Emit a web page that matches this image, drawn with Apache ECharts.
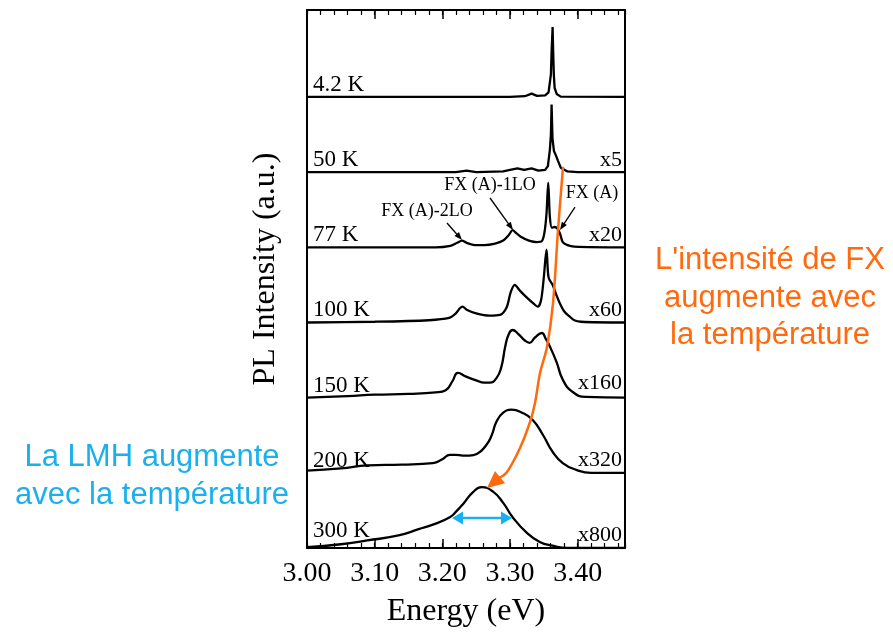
<!DOCTYPE html>
<html><head><meta charset="utf-8">
<script src="https://cdn.jsdelivr.net/npm/echarts@6/dist/echarts.min.js"></script>
<style>html,body{margin:0;padding:0;background:#fff}#c{width:893px;height:632px}</style>
</head><body><div id="c"></div>
<script>
// ---- data ----
const temps   = ['4.2 K','50 K','77 K','100 K','150 K','200 K','300 K'];
const factors = ['', 'x5','x20','x60','x160','x320','x800'];
const xTicks  = [3.00, 3.10, 3.20, 3.30, 3.40];

const e4K = [3.00,3.30,3.322,3.332,3.340,3.352,3.357,3.3605,3.3615,3.3625,3.363,3.3638,3.3648,3.366,3.369,3.375,3.47];
const i4K = [0,0,0.01,0.045,0.015,0.02,0.06,0.3,0.6,0.62,0.93,0.62,0.3,0.12,0.04,0.005,0];

const e50K = [3.00,3.22,3.236,3.25,3.29,3.30,3.311,3.321,3.332,3.342,3.352,3.356,3.359,3.3605,3.3615,3.3628,3.365,3.368,3.371,3.375,3.385,3.40,3.47];
const i50K = [0,0,0.02,0,0.01,0.03,0.05,0.03,0.05,0.02,0.03,0.08,0.3,0.5,0.9,0.45,0.28,0.22,0.15,0.06,0.01,0,0];

const e77K = [3.00,3.19,3.212,3.222,3.229,3.236,3.248,3.262,3.278,3.290,3.298,3.304,3.308,3.316,3.328,3.340,3.347,3.351,3.354,3.3565,3.359,3.362,3.366,3.370,3.374,3.378,3.385,3.395,3.47];
const i77K = [0,0,0.02,0.06,0.09,0.06,0.03,0.03,0.05,0.09,0.16,0.23,0.2,0.14,0.09,0.07,0.08,0.2,0.45,0.86,0.4,0.26,0.27,0.25,0.18,0.07,0.03,0.01,0];

const e100K = [3.00,3.10,3.18,3.21,3.220,3.226,3.230,3.236,3.25,3.27,3.285,3.295,3.301,3.307,3.315,3.325,3.335,3.341,3.346,3.350,3.354,3.357,3.363,3.368,3.373,3.380,3.388,3.395,3.405,3.47];
const i100K = [0,0.01,0.03,0.06,0.12,0.19,0.21,0.17,0.12,0.09,0.1,0.2,0.4,0.5,0.42,0.33,0.25,0.21,0.3,0.6,0.97,0.6,0.5,0.38,0.27,0.15,0.08,0.03,0.01,0];

const e150K = [3.00,3.06,3.10,3.15,3.19,3.205,3.215,3.223,3.235,3.25,3.262,3.270,3.280,3.287,3.293,3.298,3.304,3.312,3.322,3.329,3.337,3.347,3.353,3.359,3.369,3.378,3.392,3.412,3.47];
const i150K = [0,0.02,0.04,0.05,0.07,0.1,0.22,0.33,0.28,0.23,0.2,0.2,0.26,0.4,0.68,0.84,0.9,0.85,0.76,0.73,0.8,0.86,0.78,0.68,0.47,0.24,0.08,0.01,0];

const e200K = [3.00,3.05,3.09,3.14,3.186,3.20,3.211,3.220,3.230,3.240,3.251,3.265,3.273,3.280,3.290,3.302,3.318,3.334,3.349,3.363,3.378,3.398,3.42,3.47];
const i200K = [0.03,0.06,0.1,0.11,0.13,0.18,0.24,0.24,0.23,0.23,0.25,0.37,0.5,0.68,0.8,0.84,0.8,0.7,0.5,0.28,0.13,0.04,0,0];

const e300K = [3.00,3.05,3.089,3.137,3.165,3.186,3.211,3.221,3.232,3.245,3.258,3.275,3.290,3.304,3.325,3.344,3.363,3.385,3.47];
const i300K = [0.01,0.05,0.1,0.17,0.25,0.31,0.41,0.49,0.6,0.74,0.81,0.75,0.6,0.41,0.2,0.08,0.03,0,0];

const energies = [e4K, e50K, e77K, e100K, e150K, e200K, e300K];
const intens   = [i4K, i50K, i77K, i100K, i150K, i200K, i300K];

// ---- chart ----
const SERIF = '"Liberation Serif","Times New Roman",serif';
const SANS  = '"Liberation Sans",Arial,sans-serif';
const ORANGE = '#FF6A0E', BLUE = '#1AB0EE';
const YMAX = 7.157;
const smoothness = [false, false, 0.3, 0.3, 0.5, 0.5, 0.5];

const series = temps.map((t, k) => {
  const off = temps.length - 1 - k;
  return {
    name: t, type: 'line', xAxisIndex: 0, yAxisIndex: 0,
    showSymbol: false, symbol: 'none',
    smooth: smoothness[k],
    lineStyle: {color: '#000', width: 2.3},
    data: energies[k].map((e, j) => [e, intens[k][j] + off]),
    z: 3
  };
});

const baseX = {type: 'value', min: 3.0, max: 3.47, splitLine: {show: false}, gridIndex: 0};
const option = {
  animation: false,
  backgroundColor: '#fff',
  grid: {left: 307, right: 268, top: 10, bottom: 84, outerBoundsMode: 'none', containLabel: false},
  xAxis: [
    Object.assign({}, baseX, {position: 'bottom', interval: 0.1,
      axisLine: {show: true, lineStyle: {color: '#000', width: 2}},
      axisTick: {show: true, inside: true, length: 9, lineStyle: {color: '#000', width: 1.5}, customValues: xTicks},
      axisLabel: {show: true, margin: 12, color: '#000', fontSize: 28, fontFamily: SERIF, customValues: xTicks,
        formatter: v => Number(v).toFixed(2)}}),
    Object.assign({}, baseX, {position: 'bottom', interval: 0.02,
      axisLine: {show: false}, axisLabel: {show: false},
      axisTick: {show: true, inside: true, length: 5, lineStyle: {color: '#000', width: 1.2}}}),
    Object.assign({}, baseX, {position: 'top', interval: 0.1,
      axisLine: {show: true, lineStyle: {color: '#000', width: 2}}, axisLabel: {show: false},
      axisTick: {show: true, inside: true, length: 9, lineStyle: {color: '#000', width: 1.5}, customValues: xTicks}}),
    Object.assign({}, baseX, {position: 'top', interval: 0.02,
      axisLine: {show: false}, axisLabel: {show: false},
      axisTick: {show: true, inside: true, length: 5, lineStyle: {color: '#000', width: 1.2}}})
  ],
  yAxis: [
    {type: 'value', min: 0, max: YMAX, position: 'left', splitLine: {show: false},
      axisLine: {show: true, lineStyle: {color: '#000', width: 2}}, axisTick: {show: false}, axisLabel: {show: false}},
    {type: 'value', min: 0, max: YMAX, position: 'right', splitLine: {show: false},
      axisLine: {show: true, lineStyle: {color: '#000', width: 2}}, axisTick: {show: false}, axisLabel: {show: false}}
  ],
  series: series
};

const chart = echarts.init(document.getElementById('c'), null, {renderer: 'canvas'});
chart.setOption(option);

// ---- annotations ----
const P = (e, u) => chart.convertToPixel({xAxisIndex: 0, yAxisIndex: 0}, [e, u]);
function head(tip, from, len, hw, color) {
  const dx = tip[0] - from[0], dy = tip[1] - from[1], d = Math.hypot(dx, dy);
  const ux = dx / d, uy = dy / d;
  const bx = tip[0] - ux * len, by = tip[1] - uy * len;
  return {type: 'polygon', z: 100, shape: {points: [tip, [bx - uy * hw, by + ux * hw], [bx + uy * hw, by - ux * hw]]},
    style: {fill: color}};
}
function arrow(a, b, color, w, len, hw) {
  const pa = P(a[0], a[1]), pb = P(b[0], b[1]);
  const dx = pb[0] - pa[0], dy = pb[1] - pa[1], d = Math.hypot(dx, dy);
  const base = [pb[0] - dx / d * len * 0.8, pb[1] - dy / d * len * 0.8];
  return [
    {type: 'line', z: 100, shape: {x1: pa[0], y1: pa[1], x2: base[0], y2: base[1]}, style: {stroke: color, lineWidth: w}},
    head(pb, pa, len, hw, color)
  ];
}
function txt(s, x, y, size, fam, color, align) {
  return {type: 'text', z: 100, x: x, y: y,
    style: {text: s, x: 0, y: 0, fontSize: size, fontFamily: fam, fill: color, align: align || 'left', verticalAlign: 'middle'}};
}

const g = [];
const tempMidY = [85, 160, 235, 310, 386, 461, 531];
const factMidY = [0, 160, 235, 310, 383, 460, 535];
temps.forEach((t, k) => g.push(txt(t, 313, tempMidY[k], 23, SERIF, '#000', 'left')));
factors.forEach((f, k) => { if (f) g.push(txt(f, 622, factMidY[k], 22, SERIF, '#000', 'right')); });

g.push(txt('FX (A)-2LO', 427, 211, 18, SERIF, '#000', 'center'));
g.push(txt('FX (A)-1LO', 490, 185, 18, SERIF, '#000', 'center'));
g.push(txt('FX (A)', 592, 193, 18, SERIF, '#000', 'center'));
g.push(...arrow([3.2069, 4.324], [3.2291, 4.097], '#000', 1.3, 8, 3));
g.push(...arrow([3.2705, 4.656], [3.3045, 4.230], '#000', 1.3, 8, 3));
g.push(...arrow([3.3961, 4.536], [3.3739, 4.230], '#000', 1.3, 8, 3));

// axis titles
g.push({type: 'text', z: 100, x: 266, y: 269, rotation: Math.PI / 2,
  style: {text: 'PL Intensity (a.u.)', x: 0, y: 0, fontSize: 32, fontFamily: SERIF, fill: '#000', align: 'center', verticalAlign: 'middle'}});
g.push(txt('Energy (eV)', 466, 612, 32, SERIF, '#000', 'center'));

// orange curved arrow
const orangePath = [[3.3784,5.069],[3.3710,4.230],[3.3636,3.259],[3.3547,2.674],[3.3444,2.328],[3.3370,1.929],[3.3296,1.676],[3.3148,1.330],[3.2956,1.011],[3.2838,0.931]];
const orangeTip = [3.2660, 0.798];
const opx = orangePath.map(p => P(p[0], p[1]));
g.push({type: 'polyline', z: 101, shape: {points: opx, smooth: 0.35}, style: {stroke: ORANGE, lineWidth: 2.5, fill: null}});
const otip = P(orangeTip[0], orangeTip[1]);
g.push(head(otip, opx[opx.length - 1], 17, 8, ORANGE));

// blue double arrow
const bl = P(3.2143, 0.399), br = P(3.3030, 0.399);
g.push({type: 'line', z: 101, shape: {x1: bl[0] + 8, y1: bl[1], x2: br[0] - 8, y2: br[1]}, style: {stroke: BLUE, lineWidth: 2.5}});
g.push(head(br, bl, 11, 6.5, BLUE));
g.push(head(bl, br, 11, 6.5, BLUE));

// side texts
['L\'intensité de FX', 'augmente avec', 'la température'].forEach((s, i) =>
  g.push(txt(s, 770, [260, 298, 335][i], 31, SANS, ORANGE, 'center')));
['La LMH augmente', 'avec la température'].forEach((s, i) =>
  g.push(txt(s, 152, [457, 495][i], 31, SANS, BLUE, 'center')));

chart.setOption({graphic: g});
</script>
</body></html>
